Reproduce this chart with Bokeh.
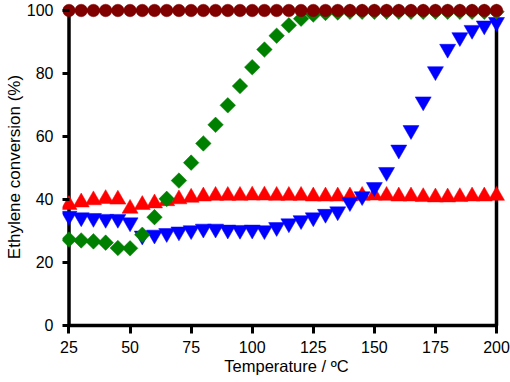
import math
from bokeh.plotting import figure
from bokeh.models import Range1d, FixedTicker, Title
from bokeh.embed import file_html
from bokeh.resources import INLINE

temps = list(range(25, 201, 5))

red_up = [38.3, 39.1, 39.8, 40.2, 40.0, 37.1, 38.3, 38.8, 39.5, 40.1,
          40.6, 41.0, 41.2, 41.2, 41.2, 41.3, 41.3, 41.2, 41.2, 41.2,
          41.0, 41.0, 41.0, 41.0, 41.2, 41.3, 41.2, 41.0, 41.0, 40.8,
          40.7, 40.7, 40.8, 41.0, 41.0, 41.2]

blue_down = [34.8, 34.3, 34.1, 33.8, 33.8, 32.7, 28.5, 28.8, 29.3, 29.8,
             30.2, 30.7, 30.7, 30.4, 30.3, 30.4, 30.2, 31.2, 32.4, 33.4,
             34.3, 35.4, 36.2, 39.1, 41.0, 43.9, 48.7, 55.8, 62.0, 71.1,
             80.7, 87.8, 91.5, 93.8, 95.2, 96.3]

green_diamond = [27.3, 27.0, 26.7, 26.3, 24.6, 24.5, 28.8, 34.4, 40.2, 46.0,
                 51.7, 57.8, 63.7, 69.9, 76.0, 82.0, 87.6, 92.0, 95.3, 97.4,
                 98.7, 99.2, 99.4, 99.6, 99.6, 99.6, 99.6, 99.6, 99.6, 99.6,
                 99.6, 99.6, 99.6, 99.6, 99.6, 99.6]

maroon_circle = [100.0] * 36

x_ticks = [25, 50, 75, 100, 125, 150, 175, 200]
y_ticks = [0, 20, 40, 60, 80, 100]

FONT = "Liberation Sans"

p = figure(width=510, height=380,
           x_range=Range1d(22.34, 205.73), y_range=Range1d(-2.54, 103.17),
           output_backend="svg", toolbar_location=None,
           min_border_left=62, min_border_right=0,
           min_border_top=0, min_border_bottom=47)
p.outline_line_color = None
p.xgrid.visible = False
p.ygrid.visible = False
p.background_fill_color = "white"
p.border_fill_color = "white"

for ax, ticks, tick_len in ((p.xaxis[0], x_ticks, 8), (p.yaxis[0], y_ticks, 7)):
    ax.ticker = FixedTicker(ticks=ticks)
    ax.axis_line_color = None
    ax.major_tick_line_color = "black"
    ax.major_tick_line_width = 3
    ax.major_tick_in = tick_len
    ax.major_tick_out = 0
    ax.minor_tick_line_color = None
    ax.major_label_text_font = FONT
    ax.major_label_text_font_size = "16px"
    ax.major_label_text_color = "black"
    ax.axis_label_text_font = FONT
    ax.axis_label_text_font_size = "16.5px"
    ax.axis_label_text_font_style = "normal"
    ax.axis_label_text_color = "black"
p.xaxis[0].major_label_standoff = 7
p.yaxis[0].major_label_standoff = 9
p.xaxis[0].axis_label = "Temperature / ºC"
p.xaxis[0].axis_label_standoff = 1

p.add_layout(Title(text="Ethylene conversion (%)", align="center", offset=-7,
                   text_font=FONT, text_font_size="17px", text_font_style="normal",
                   text_color="black", standoff=0), "left")

# plot box
p.quad(left=[min(temps)], right=[max(temps)], bottom=[y_ticks[0]], top=[y_ticks[-1]],
       fill_color=None, line_color="black", line_width=3.5)

p.scatter(temps, red_up, marker="triangle", size=16,
          fill_color="#ff0000", line_color="#ff0000", line_width=0.5)
p.scatter(temps, blue_down, marker="inverted_triangle", size=16,
          fill_color="#0000ff", line_color="#0000ff", line_width=0.5)
p.scatter(temps, green_diamond, marker="square", angle=math.pi / 4, size=11,
          fill_color="#008000", line_color="#008000", line_width=0.5)
p.scatter(temps, maroon_circle, marker="circle", size=12.5,
          fill_color="#800000", line_color="#800000", line_width=0.5)

open("out.html", "w").write(file_html(p, INLINE))
